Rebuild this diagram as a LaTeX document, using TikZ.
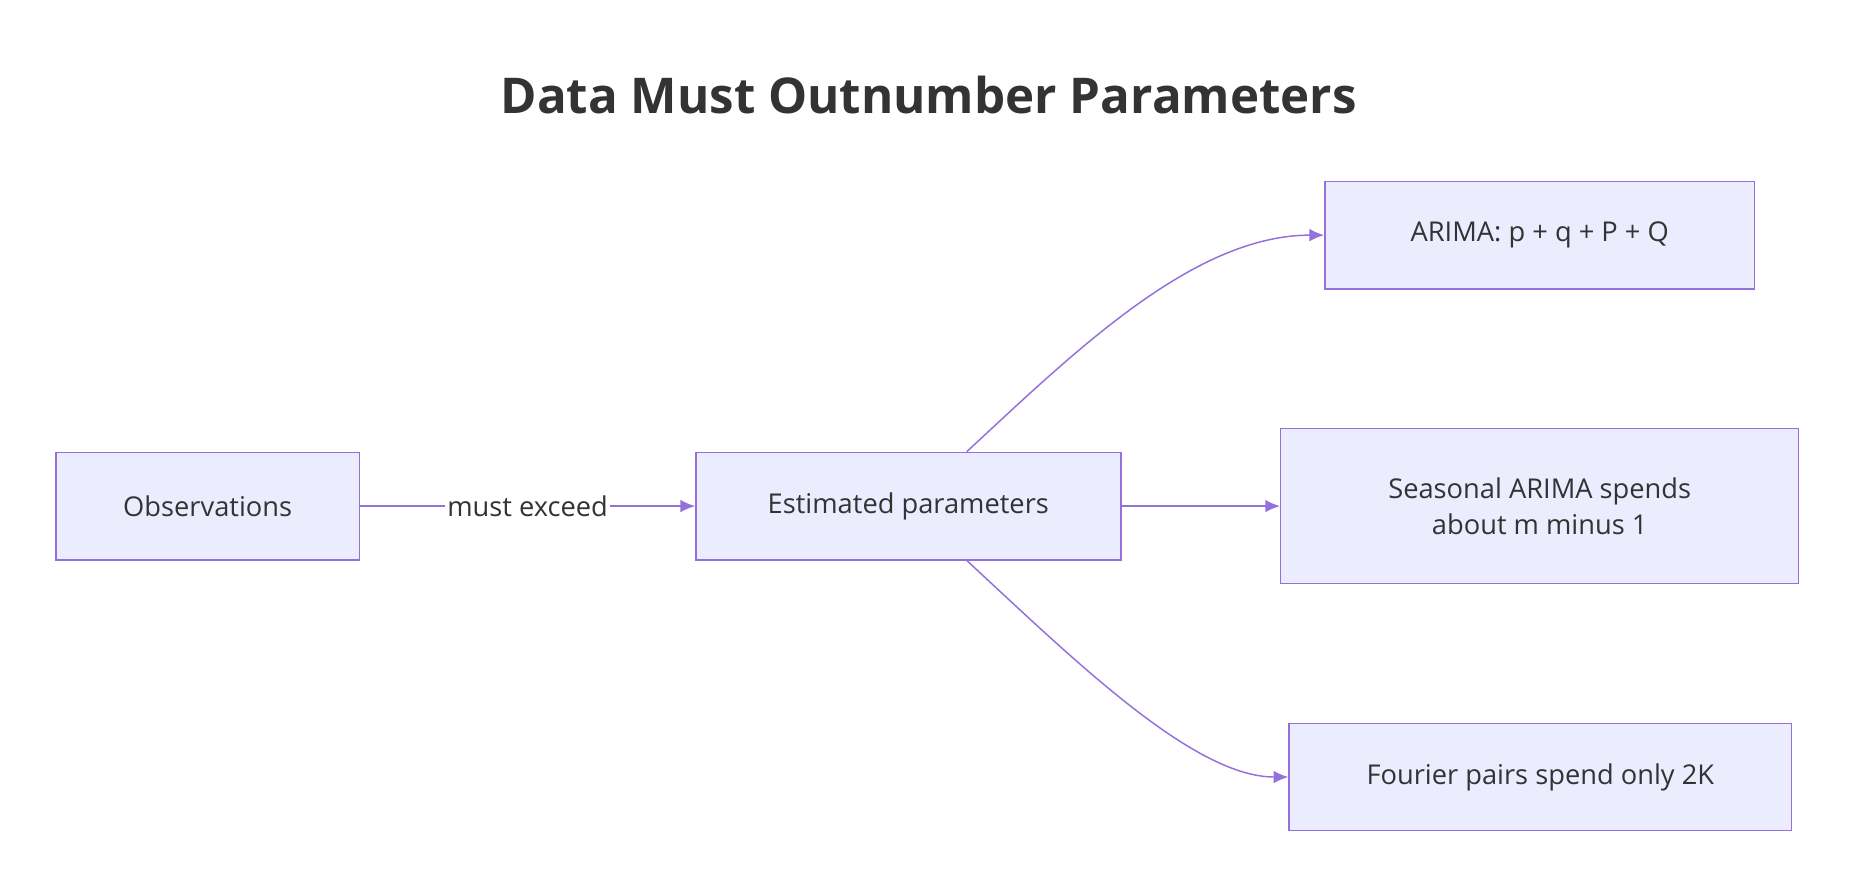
\documentclass[tikz,border=0pt]{standalone}
\usepackage{fontspec}
\setmainfont{Open Sans}
\usetikzlibrary{arrows.meta}
\definecolor{edgec}{HTML}{9370DB}
\definecolor{boxc}{HTML}{ECECFF}
\definecolor{txtc}{HTML}{333333}
\begin{document}
\begin{tikzpicture}[x=0.02cm,y=-0.02cm,
  box/.style={draw=edgec,fill=boxc,line width=0.7pt,text=txtc,font=\fontsize{13}{17}\selectfont,align=center,inner sep=0pt},
  link/.style={draw=edgec,line width=0.7pt,-{Latex[length=7pt,width=6pt]}}]
\useasboundingbox (0,0) rectangle (1560,746);

\node[text=txtc,font=\bfseries\fontsize{23.5}{28}\selectfont] (title) at (778,80) {Data Must Outnumber Parameters};

\node[box,minimum width=254*0.02cm,minimum height=90*0.02cm] (obs) at (174,424) {Observations};
\node[box,minimum width=356*0.02cm,minimum height=90*0.02cm] (est) at (761,424) {Estimated parameters};
\node[box,minimum width=360*0.02cm,minimum height=90*0.02cm] (arima) at (1290,197) {ARIMA: p + q + P + Q};
\node[box,minimum width=434*0.02cm,minimum height=130*0.02cm] (seas) at (1290,424) {Seasonal ARIMA spends\\about m minus 1};
\node[box,minimum width=421*0.02cm,minimum height=90*0.02cm] (four) at (1290.5,651) {Fourier pairs spend only 2K};

\draw[link] (obs) -- node[fill=white,text=txtc,inner sep=1pt,font=\fontsize{13}{17}\selectfont] {must exceed} (est);
\draw[link] (est) -- (seas);
\draw[link] ([xshift=0.98cm]est.north) .. controls (900,295) and (1000,197) .. (arima.west);
\draw[link] ([xshift=0.98cm]est.south) .. controls (900,553) and (1000,651) .. (four.west);
\end{tikzpicture}
\end{document}
